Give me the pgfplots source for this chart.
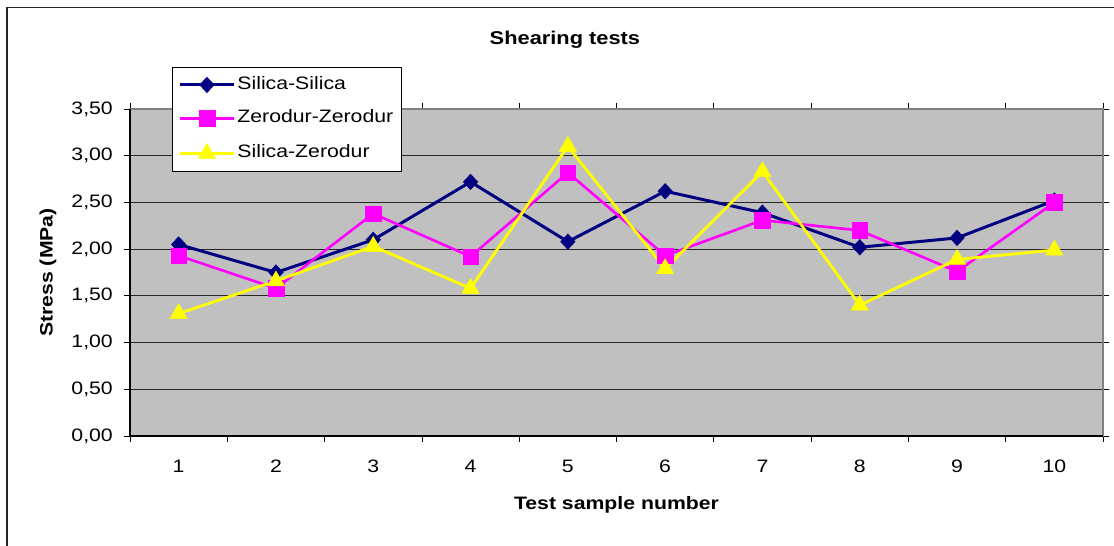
\documentclass[border=0pt]{standalone}
\usepackage{fontspec}
\setmainfont{Liberation Sans}[FakeStretch=1.18]
\usepackage{pgfplots}
\pgfplotsset{compat=1.18}
\definecolor{navyc}{HTML}{000080}
\definecolor{magc}{HTML}{FF00FF}
\definecolor{yelc}{HTML}{FFFF00}
\definecolor{bgc}{HTML}{C0C0C0}
\definecolor{borderc}{HTML}{808080}
\begin{document}
\fontsize{18}{21.6}\selectfont
\begin{tikzpicture}
\useasboundingbox (-130pt,-110pt) rectangle (984pt,436pt);
\draw[line width=1.5pt, black!85] (-123pt,-115pt) -- (-123pt,428.3pt) -- (990pt,428.3pt);
\begin{axis}[
  at={(0,0)}, anchor=south west,
  scale only axis, width=973pt, height=327pt,
  xmin=0.5, xmax=10.5, ymin=0, ymax=3.5,
  clip=false,
  axis background/.style={fill=bgc},
  axis line style={draw=borderc, line width=2pt},
  xtick={1,...,10},
  minor xtick={0.5,1.5,...,10.5},
  ytick={0,0.5,...,3.5},
  tick align=outside,
  major tick length=6pt, minor tick length=6pt,
  tick style={black, line width=0.8pt},
  major x tick style={draw=none},
  ymajorgrids,
  grid style={black!85, line width=0.9pt},
  /pgf/number format/assume math mode=true,
  yticklabel style={/pgf/number format/fixed, /pgf/number format/fixed zerofill, /pgf/number format/precision=2, /pgf/number format/use comma},
  yticklabel style={anchor=east, inner sep=0pt, xshift=-11pt},
  xticklabel style={anchor=north, inner sep=0pt, yshift=-18pt},
  ticklabel style={font=\fontsize{18}{21.6}\selectfont},
  xlabel={\bfseries Test sample number},
  ylabel={\bfseries Stress (MPa)},
  xlabel style={at={(axis description cs:0.5,-0.211)}, anchor=center, font=\fontsize{18}{21.6}\selectfont},
  ylabel style={at={(axis description cs:-0.0843,0.5)}, anchor=center, font=\fontsize{18}{21.6}\selectfont},
  title={\bfseries Shearing tests},
  title style={at={(axis description cs:0.447,1.217)}, anchor=center, yshift=-8pt, font=\fontsize{18.5}{22}\selectfont},
  legend cell align=left,
  legend style={at={(axis description cs:0.0432,1.1284)}, anchor=north west,
    draw=black, line width=0.8pt, fill=white, font=\fontsize{18}{21.6}\selectfont,
    inner xsep=6pt, inner ysep=9pt, row sep=16.5pt,
    nodes={text height=13pt, text depth=4pt, inner ysep=0pt, inner xsep=2pt},
    /tikz/every even column/.append style={column sep=0pt}},
  legend image code/.code={\draw[mark repeat=2,mark phase=2,#1] plot coordinates {(0pt,0pt) (27pt,0pt) (54pt,0pt)};},
]
\addplot[navyc, line width=3pt, mark=diamond*, mark size=7.8pt, mark options={solid, fill=navyc, draw=navyc, line width=0.4pt, xscale=1.25}]
  coordinates {(1,2.05) (2,1.75) (3,2.10) (4,2.72) (5,2.08) (6,2.62) (7,2.39) (8,2.02) (9,2.12) (10,2.52)};
\addlegendentry{Silica-Silica}
\addplot[magc, line width=2.6pt, mark=square*, mark size=7.8pt, mark options={solid, fill=magc, draw=magc, line width=0.4pt}]
  coordinates {(1,1.93) (2,1.58) (3,2.38) (4,1.92) (5,2.82) (6,1.93) (7,2.31) (8,2.20) (9,1.76) (10,2.50)};
\addlegendentry{Zerodur-Zerodur}
\addplot[yelc, line width=2.8pt, mark=triangle*, mark size=10pt, mark options={solid, fill=yelc, draw=yelc, line width=0.4pt}]
  coordinates {(1,1.31) (2,1.66) (3,2.03) (4,1.58) (5,3.10) (6,1.79) (7,2.83) (8,1.40) (9,1.89) (10,1.99)};
\addlegendentry{Silica-Zerodur}
\draw[black, line width=1.2pt] (rel axis cs:0,1) -- (rel axis cs:0,0) -- (rel axis cs:1,0);
\end{axis}
\end{tikzpicture}
\end{document}
